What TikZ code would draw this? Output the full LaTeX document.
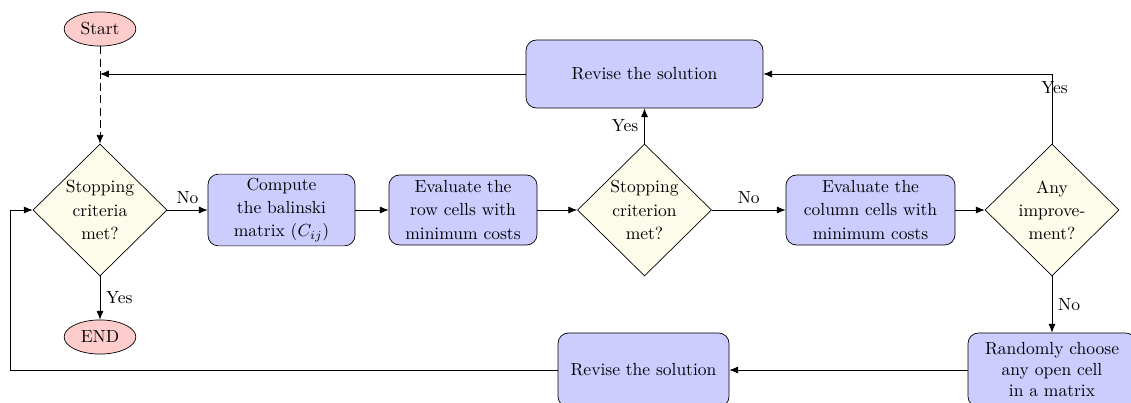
\documentclass[tikz,border=0pt]{standalone}
\usetikzlibrary{shapes.geometric,arrows.meta}
\definecolor{dfill}{RGB}{253,252,234}
\begin{document}
\begin{tikzpicture}[x=0.5714pt,y=-0.5714pt,
  term/.style={ellipse,draw,fill=red!20,minimum width=41pt,minimum height=19.5pt,inner sep=1pt},
  decis/.style={diamond,draw,fill=dfill,aspect=1,inner sep=0pt,minimum width=76.6pt,minimum height=75.4pt,align=center},
  procbox/.style={rectangle,draw,fill=blue!20,rounded corners=6pt,align=center,inner sep=2pt},
  conn/.style={draw,-{Latex[length=5pt,width=4pt]}},
  lbl/.style={font=\normalsize}]
\useasboundingbox (0,0) rectangle (1131,403);
\node[term] (start) at (100,29) {Start};
\node[decis] (d1) at (100,210) {Stopping\\[1.2pt]criteria\\[1.2pt]met?};
\node[term] (end) at (100,337) {END};
\node[procbox,minimum width=84pt,minimum height=41pt] (comp) at (281.5,210) {Compute\\[1.2pt]the balinski\\[1.2pt]matrix $(C_{ij})$};
\node[procbox,minimum width=84.6pt,minimum height=40pt] (evr) at (463,210) {Evaluate the\\[1.2pt]row cells with\\[1.2pt]minimum costs};
\node[decis] (d2) at (644.5,210) {Stopping\\[1.2pt]criterion\\[1.2pt]met?};
\node[procbox,minimum width=135.4pt,minimum height=38.9pt] (rev1) at (644.5,74) {Revise the solution};
\node[procbox,minimum width=96.6pt,minimum height=40pt] (evc) at (870.5,210) {Evaluate the\\[1.2pt]column cells with\\[1.2pt]minimum costs};
\node[decis] (d3) at (1052,210) {Any\\[1.2pt]improve-\\[1.2pt]ment?};
\node[procbox,minimum width=96pt,minimum height=42.3pt] (rand) at (1052,370) {Randomly choose\\any open cell\\in a matrix};
\node[procbox,minimum width=97.7pt,minimum height=42.3pt] (rev2) at (643.5,370) {Revise the solution};
\coordinate (j) at (100,74);
\coordinate (lc) at (10,370);
\draw[conn,dash pattern=on 4.5pt off 2.5pt] (start) -- (d1);
\draw[conn] (d1) -- node[right,lbl] {Yes} (end);
\draw[conn] (d1) -- node[above,lbl] {No} (comp);
\draw[conn] (comp) -- (evr);
\draw[conn] (evr) -- (d2);
\draw[conn] (d2) -- node[left,lbl] {Yes} (rev1);
\draw[conn] (d2) -- node[above,lbl] {No} (evc);
\draw[conn] (evc) -- (d3);
\draw[conn] (d3.north) |- node[pos=0.4,xshift=1.5pt,lbl] {Yes} (rev1.east);
\draw[conn] (d3) -- node[right,lbl] {No} (rand);
\draw[conn] (rev1.west) -- (j);
\draw[conn] (rand.west) -- (rev2.east);
\draw[conn] (rev2.west) -- (lc) |- (d1.west);
\end{tikzpicture}
\end{document}
